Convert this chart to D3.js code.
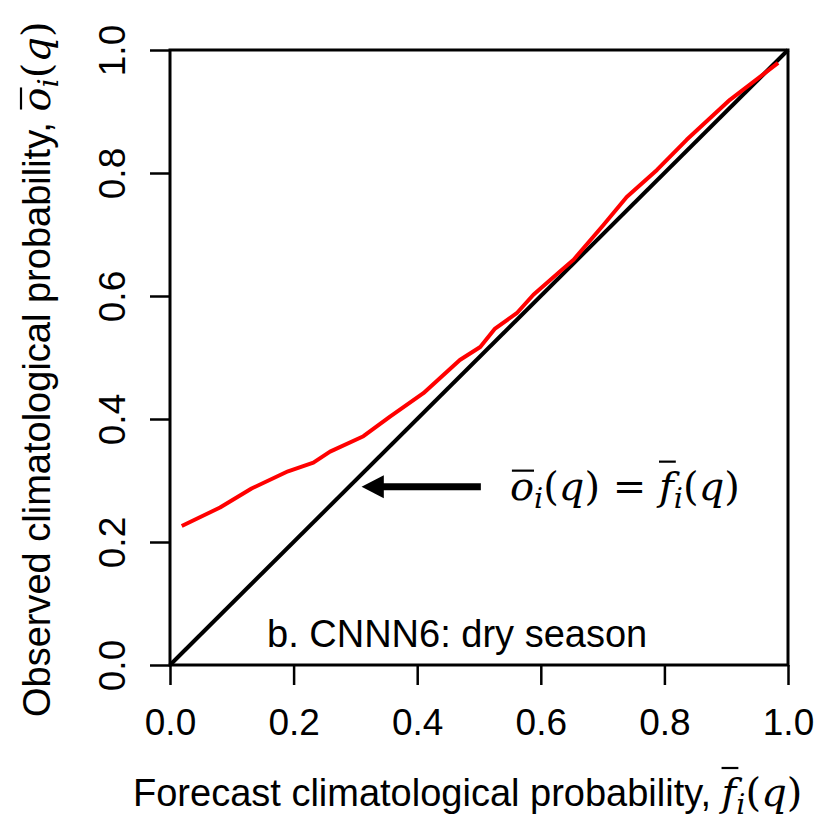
<!DOCTYPE html>
<html>
<head>
<meta charset="utf-8">
<script src="https://cdn.jsdelivr.net/npm/d3@7"></script>
<style>
  body { margin: 0; background: #fff; }
  text { font-family: "Liberation Sans", Arial, sans-serif; fill: #000; }
  .math { font-family: "DejaVu Serif", "Liberation Serif", serif; }
</style>
</head>
<body>
<svg id="chart" width="820" height="822"></svg>
<script>
// forecast climatological probability (x) and observed climatological probability (y)
var fcstProb = [0.019, 0.081, 0.132, 0.191, 0.232, 0.259, 0.313, 0.356, 0.410, 0.469, 0.502, 0.526,
                0.561, 0.588, 0.631, 0.653, 0.701, 0.739, 0.788, 0.836, 0.906, 0.984];
var obsProb  = [0.226, 0.256, 0.287, 0.315, 0.329, 0.347, 0.372, 0.404, 0.442, 0.496, 0.517, 0.547,
                0.572, 0.602, 0.640, 0.659, 0.715, 0.761, 0.805, 0.854, 0.919, 0.979];
var diagonal = [0, 1];
var tickValues = [0, 0.2, 0.4, 0.6, 0.8, 1.0];
var panelLabel = 'b. CNNN6: dry season';
var xTitle = 'Forecast climatological probability, ';
var yTitle = 'Observed climatological probability, ';

var margin = {top: 50, left: 170, right: 32, bottom: 157};
var W = 820, H = 822;
var w = W - margin.left - margin.right;
var h = H - margin.top - margin.bottom;

var svg = d3.select('#chart');
var g = svg.append('g').attr('transform', 'translate(' + margin.left + ',' + margin.top + ')');

var x = d3.scaleLinear().domain([0, 1]).range([0, w]);
var y = d3.scaleLinear().domain([0, 1]).range([h, 0]);

// axes (R style, ticks outward, no domain line)
var xAxis = g.append('g').attr('transform', 'translate(0,' + h + ')')
  .call(d3.axisBottom(x).tickValues(tickValues).tickSize(20).tickFormat(d3.format('.1f')));
xAxis.select('.domain').remove();
xAxis.selectAll('line').attr('stroke', '#000').attr('stroke-width', 2.5);
xAxis.selectAll('text').attr('y', 70).attr('dy', null).style('font-size', '37px');

var yAxis = g.append('g')
  .call(d3.axisLeft(y).tickValues(tickValues).tickSize(20).tickFormat(d3.format('.1f')));
yAxis.select('.domain').remove();
yAxis.selectAll('line').attr('stroke', '#000').attr('stroke-width', 2.5);
yAxis.selectAll('text')
  .attr('x', 0).attr('y', -45).attr('dy', null)
  .attr('text-anchor', 'middle')
  .attr('transform', 'rotate(-90)')
  .style('font-size', '37px');
svg.selectAll('.tick text').attr('font-family', null).attr('font-size', null);

// box
g.append('rect').attr('x', 0).attr('y', 0).attr('width', w).attr('height', h)
  .attr('fill', 'none').attr('stroke', '#000').attr('stroke-width', 3);

// 1:1 line
g.append('line')
  .attr('x1', x(diagonal[0])).attr('y1', y(diagonal[0]))
  .attr('x2', x(diagonal[1])).attr('y2', y(diagonal[1]))
  .attr('stroke', '#000').attr('stroke-width', 4);

// reliability curve
var line = d3.line().x(function(d, i){ return x(fcstProb[i]); }).y(function(d){ return y(d); });
g.append('path').datum(obsProb)
  .attr('d', line)
  .attr('fill', 'none').attr('stroke', '#ff0000').attr('stroke-width', 4)
  .attr('stroke-linejoin', 'round');

// panel label
g.append('text').attr('x', x(0.157)).attr('y', y(0.029))
  .style('font-size', '38px').text(panelLabel);

// arrow pointing to the diagonal
var arrowY = y(0.29);
g.append('line').attr('x1', x(0.503)).attr('y1', arrowY).attr('x2', x(0.33)).attr('y2', arrowY)
  .attr('stroke', '#000').attr('stroke-width', 7);
g.append('path')
  .attr('d', d3.line()([[x(0.31), arrowY], [x(0.346), arrowY - 11.5], [x(0.346), arrowY + 11.5]]) + 'Z')
  .attr('fill', '#000');

// overline above one character of a text node
function overline(parent, node, idx, baseY, rise, pad){
  var ext = node.getExtentOfChar(idx);
  parent.append('line')
    .attr('x1', ext.x + pad).attr('x2', ext.x + ext.width - pad + 2)
    .attr('y1', baseY - rise).attr('y2', baseY - rise)
    .attr('stroke', '#000').attr('stroke-width', 2.2);
}

// math fragment: bar-letter, subscript i, (q)
function mathPart(t, letter, size){
  t.append('tspan').attr('class', 'math').style('font-style', 'italic').style('font-size', size + 'px').text(letter);
  t.append('tspan').attr('class', 'math').style('font-style', 'italic').style('font-size', (size * 0.72) + 'px')
    .attr('dy', size * 0.2).text('i');
  t.append('tspan').attr('class', 'math').style('font-size', size + 'px').attr('dy', -size * 0.2).text('(');
  t.append('tspan').attr('class', 'math').style('font-style', 'italic').style('font-size', size + 'px').text('q');
  t.append('tspan').attr('class', 'math').style('font-size', size + 'px').text(')');
}

// equation label
var eqG = g.append('g');
var eqBase = y(0.29) + 13;
var eq = eqG.append('text').attr('x', x(0.55)).attr('y', eqBase);
mathPart(eq, 'o', 40);
eq.append('tspan').attr('class', 'math').style('font-size', '40px').text(' = ');
mathPart(eq, 'f', 40);
overline(eqG, eq.node(), 0, eqBase, 29, 2);
overline(eqG, eq.node(), 8, eqBase, 38, 0);

// x title
var xtG = svg.append('g');
var xtBase = 806;
var xt = xtG.append('text').attr('x', 133).attr('y', xtBase).style('font-size', '38px');
xt.append('tspan').text(xTitle);
mathPart(xt, 'f', 40);
overline(xtG, xt.node(), xTitle.length, xtBase, 38, 0);

// y title
var ytG = svg.append('g').attr('transform', 'translate(50,717) rotate(-90)');
var yt = ytG.append('text').attr('x', 0).attr('y', 0).style('font-size', '38px');
yt.append('tspan').text(yTitle);
mathPart(yt, 'o', 40);
overline(ytG, yt.node(), yTitle.length, 0, 29, 2);
</script>
</body>
</html>
